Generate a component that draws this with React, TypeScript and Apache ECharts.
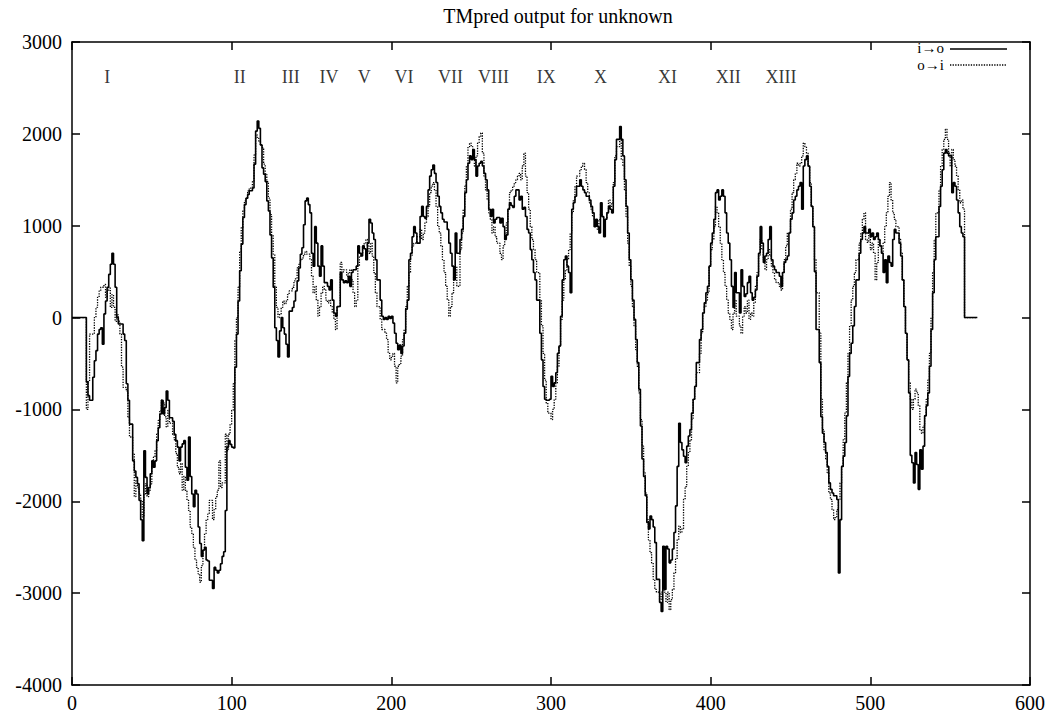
import { useEffect, useRef } from "react";
import * as echarts from "echarts";

// Residue at which each run of consecutive readings starts
const RUN_STARTS = [0, 8, 13, 38, 63, 88, 113, 138, 149, 168, 193, 218, 243, 268, 293, 299, 318, 343, 368, 393, 418, 443, 449, 468, 493, 518, 543, 559, 567];

// i→o score (solid line), one array per run
const IN_TO_OUT = [
  [0],
  [0, -700, -850, -900],
  [-650, -470, -360, -180, -130, -110, -290, 40, 180, 330, 470, 580, 700, 580, 330, 0, -70, -70, -70, -180, -250, -720, -900, -1160],
  [-1560, -1670, -1740, -1810, -1990, -2200, -2430, -1450, -1740, -1920, -1850, -1700, -1560, -1630, -1560, -1340, -1200, -1050, -900, -1050, -980, -800, -900, -1090],
  [-1130, -1270, -1340, -1410, -1560, -1410, -1375, -1340, -1630, -1770, -1300, -1730, -1920, -2060, -1880, -1920, -2280, -2460, -2600, -2530, -2500, -2640, -2650, -2860],
  [-2950, -2720, -2750, -2780, -2750, -2680, -2600, -2550, -2100, -1410, -1340, -1380, -1410, -1420, -540, -180, 180, 510, 800, 1090, 1230, 1300, 1340, 1380],
  [1410, 1670, 2030, 2140, 2060, 1880, 1630, 1560, 1480, 1270, 1160, 900, 650, 330, -110, -250, -430, -145, 0, -110, -180, -290, -430, 70],
  [110, 180, 290, 400, 540, 690, 760, 1010, 1270, 1300, 1230],
  [1140, 700, 560, 990, 810, 560, 450, 780, 560, 380, 380, 340, 300, 410, 190, 50, 15, 120],
  [490, 410, 380, 400, 380, 450, 340, 490, 520, 520, 560, 780, 700, 670, 780, 750, 630, 810, 1070, 1030, 920, 850, 630, 410],
  [190, 15, -20, 0, -20, 15, -10, 15, -60, -170, -280, -350, -300, -390, -310, -170, 90, 190, 630, 700, 880, 990, 920, 810],
  [1100, 1210, 1100, 1080, 1210, 1390, 1540, 1610, 1660, 1570, 1470, 1320, 1210, 1140, 1070, 1040, 1040, 960, 810, 700, 560, 410, 920, 700],
  [850, 960, 1100, 1360, 1500, 1680, 1760, 1720, 1830, 1720, 1540, 1650, 1680, 1700, 1650, 1570, 1500, 1390, 1180, 1100, 1180, 1030, 1070, 1090],
  [1030, 1080, 990, 850, 900, 1180, 1250, 1220, 1200, 1320, 1390, 1390, 1280, 1320, 1180, 1200, 1100, 960, 920, 740, 630, 490, 410, 190],
  [-170, -460, -750, -890, -900, -900],
  [-890, -640, -750, -710, -600, -390, -310, 15, 410, 630, 670, 560, 490, 270, 1180, 1250, 1320, 1430],
  [1500, 1430, 1390, 1360, 1320, 1320, 1280, 1210, 1140, 990, 1070, 990, 920, 1250, 1100, 880, 1070, 1140, 1210, 1180, 1140, 1430, 1720, 1940],
  [2080, 1940, 1760, 1500, 1210, 920, 630, 410, 190, -20, -240, -490, -780, -1180, -1540, -1730, -1940, -2230, -2300, -2160, -2200, -2280, -2450, -2850],
  [-3100, -3200, -2490, -2960, -2490, -2520, -2670, -2640, -2520, -2340, -2050, -1620, -1150, -1360, -1440, -1510, -1580, -1400, -1290, -1220, -1040, -890, -750, -490],
  [-240, -130, 50, 160, 270, 340, 560, 810, 920, 1070, 1360, 1390, 1280, 1320, 1390, 1320, 1140, 920, 810, 630, 340, 110, 490, 270],
  [50, 520, 340, 230, 260, 380, 450, 270, 190, 220, 300, 450, 700, 990, 810, 600, 670, 700, 850, 990, 630, 560, 520, 490],
  [450, 340, 490, 600, 630, 670],
  [920, 1070, 1140, 1280, 1320, 1390, 1430, 1470, 1180, 1650, 1720, 1760, 1650, 1430, 1210, 990, 500, -130],
  [-490, -1080, -1260, -1360, -1470, -1620, -1800, -1870, -1910, -1940, -1940, -1980, -2780, -2200, -1620, -1510, -1360, -1070, -640, -390, -280, -90, 120, 410],
  [700, 850, 920, 990, 920, 920, 960, 880, 920, 850, 880, 920, 850, 780, 700, 490, 630, 380, 670, 600, 560, 850, 960, 920],
  [810, 670, 410, 120, -170, -460, -820, -1500, -1580, -1800, -1470, -1600, -1870, -1440, -1650, -1400, -1070, -960, -820, -530, -130, 270, 630, 880],
  [1210, 1430, 1610, 1790, 1830, 1790, 1760, 1760, 1360, 1470, 1430, 1280, 1140, 990, 920, 880],
  [0],
  [0],
];

// o→i score (dotted line), same runs
const OUT_TO_IN = [
  [0],
  [0, -1000, -700, -180],
  [-180, 0, 110, 220, 290, 330, 330, 360, 220, 290, 330, 110, 250, 110, -40, 30, -40, -180, -540, -760, -760, -800, -1090, -1300],
  [-1480, -1950, -1770, -1850, -1920, -1990, -2170, -1920, -1810, -1950, -1880, -1810, -1630, -1520, -1450, -1270, -1120, -1010, -900, -930, -1080, -1190, -1010, -1150],
  [-1270, -1330, -1480, -1630, -1700, -1590, -1880, -1730, -1880, -1990, -2100, -2280, -2350, -2500, -2640, -2720, -2790, -2880, -2700, -2530, -2350, -2200, -2140, -1990],
  [-2200, -2090, -1950, -1880, -1560, -1850, -1800, -1800, -1270, -1450, -1270, -1160, -1010, -720, -250, 0, 330, 720, 980, 1160, 1270, 1300, 1380, 1410],
  [1480, 1770, 1990, 1950, 1920, 1880, 1850, 1670, 1560, 1480, 1300, 1120, 900, 690, 330, 110, 0, 40, 110, 180, 150, 180, 250, 290],
  [330, 400, 430, 540, 580, 620, 650, 690, 720, 690, 690],
  [630, 450, 270, 340, 190, 15, 120, 270, 340, 300, 190, 160, 190, 120, 50, -20, -130, 120],
  [600, 490, 520, 520, 450, 490, 520, 410, 270, 120, 190, 560, 670, 700, 780, 810, 850, 780, 700, 810, 670, 490, 270, 120],
  [-20, -130, -130, -170, -240, -390, -460, -420, -390, -530, -710, -530, -500, -420, -240, -130, 120, 340, 490, 670, 780, 810, 810, 880],
  [960, 850, 920, 1030, 1100, 1210, 1360, 1430, 1470, 1390, 1210, 990, 920, 780, 630, 490, 340, 190, 15, 120, 270, 450, 560, 340],
  [740, 920, 1180, 1430, 1650, 1860, 1900, 1860, 1760, 1650, 1760, 1900, 1970, 2010, 1790, 1540, 1390, 1280, 1140, 1070, 920, 990, 880, 810],
  [700, 630, 780, 920, 1030, 1180, 1360, 1390, 1430, 1470, 1500, 1540, 1570, 1500, 1650, 1790, 1540, 1360, 1180, 990, 850, 740, 630, 490],
  [190, -90, -390, -680, -930, -1040],
  [-1040, -1110, -1000, -890, -710, -530, -310, -20, 190, 410, 520, 630, 740, 920, 1140, 1280, 1430, 1540],
  [1610, 1650, 1680, 1610, 1470, 1360, 1250, 1180, 1100, 1070, 1030, 960, 1070, 1140, 1100, 990, 1070, 1140, 1280, 1210, 1250, 1470, 1760, 1860],
  [1940, 1720, 1650, 1390, 1100, 810, 560, 340, 120, -90, -350, -530, -820, -1110, -1400, -1690, -1910, -2200, -2420, -2560, -2670, -2850, -2960, -2990],
  [-3070, -2990, -2920, -2990, -3100, -2990, -3180, -3070, -2960, -2780, -2630, -2420, -2270, -2340, -2300, -1980, -1840, -1620, -1470, -1330, -1110, -890, -750, -600],
  [-390, -170, 50, 120, 190, 270, 560, 740, 850, 990, 1210, 1140, 990, 810, 630, 490, 340, 190, 50, -20, -130, 50, 190, 15],
  [-90, -170, 15, 120, 50, 190, -20, 50, 15, 160, 340, 490, 670, 850, 740, 630, 520, 630, 740, 670, 560, 490, 410, 380],
  [340, 300, 490, 630, 780, 920],
  [920, 1180, 1360, 1500, 1570, 1680, 1650, 1680, 1760, 1900, 1860, 1790, 1650, 1470, 1210, 990, 630, 270],
  [-170, -890, -1220, -1440, -1540, -1690, -1910, -1980, -2090, -2200, -2170, -2090, -1980, -1800, -1620, -1330, -1040, -710, -390, -90, 190, 340, 490, 630],
  [810, 920, 1070, 1140, 850, 820, 960, 740, 810, 700, 410, 600, 850, 780, 700, 810, 990, 1140, 1320, 1470, 1280, 1140, 1070, 990],
  [850, 700, 410, 120, -170, -460, -710, -890, -1000, -890, -780, -820, -960, -1220, -1260, -1180, -1070, -890, -680, -390, 0, 490, 850, 1140],
  [1390, 1650, 1830, 1940, 2050, 1940, 1790, 1650, 1830, 1720, 1650, 1540, 1390, 1250, 1280, 1180],
  [0],
  [0],
];

// Helix labels and the residues they sit over
const HELIX_LABELS = ["I", "II", "III", "IV", "V", "VI", "VII", "VIII", "IX", "X", "XI", "XII", "XIII"];
const HELIX_POS = [22, 105, 137, 161, 183, 208, 237, 264, 297, 331, 373, 411, 444];
const HELIX_LABEL_Y = 2620;

const X_MIN = 0;
const X_MAX = 600;
const X_STEP = 100;
const Y_MIN = -4000;
const Y_MAX = 3000;
const Y_STEP = 1000;

const SERIF = "'Liberation Serif', 'DejaVu Serif', serif";

function toPoints(runs: number[][]): number[][] {
  const pts: number[][] = [];
  runs.forEach((vals, i) => {
    vals.forEach((v, j) => pts.push([RUN_STARTS[i] + j, v]));
  });
  return pts;
}

export default function App() {
  const ref = useRef<HTMLDivElement>(null);

  useEffect(() => {
    if (!ref.current) return;
    const chart = echarts.init(ref.current, undefined, { renderer: "svg" });

    const axisLine = { show: true, onZero: false, lineStyle: { color: "#000", width: 1.5 } };
    const axisTick = { show: true, inside: true, length: 8, lineStyle: { color: "#000", width: 1.5 } };
    const label = { color: "#000", fontFamily: SERIF, fontSize: 20, formatter: (v: number) => String(v) };

    chart.setOption({
      animation: false,
      backgroundColor: "#fff",
      title: {
        text: "TMpred output for unknown",
        left: 553,
        top: 1,
        textAlign: "center",
        textStyle: { color: "#000", fontFamily: SERIF, fontSize: 20, fontWeight: "normal" },
      },
      grid: { left: 72, right: 15, top: 42, bottom: 32, containLabel: false },
      xAxis: [
        {
          type: "value", min: X_MIN, max: X_MAX, interval: X_STEP, position: "bottom",
          axisLine, axisTick, splitLine: { show: false },
          axisLabel: { ...label, margin: 8 },
        },
        {
          type: "value", min: X_MIN, max: X_MAX, interval: X_STEP, position: "top",
          axisLine, axisTick, splitLine: { show: false }, axisLabel: { show: false },
        },
      ],
      yAxis: [
        {
          type: "value", min: Y_MIN, max: Y_MAX, interval: Y_STEP, position: "left",
          axisLine, axisTick, splitLine: { show: false },
          axisLabel: { ...label, margin: 10 },
        },
        {
          type: "value", min: Y_MIN, max: Y_MAX, interval: Y_STEP, position: "right",
          axisLine, axisTick, splitLine: { show: false }, axisLabel: { show: false },
        },
      ],
      series: [
        {
          name: "o→i",
          type: "line",
          step: "end",
          showSymbol: false,
          symbol: "none",
          data: toPoints(OUT_TO_IN),
          lineStyle: { color: "#000", width: 1.3, type: "dotted" },
          z: 2,
        },
        {
          name: "i→o",
          type: "line",
          step: "end",
          showSymbol: false,
          symbol: "none",
          data: toPoints(IN_TO_OUT),
          lineStyle: { color: "#000", width: 1.6, type: "solid" },
          z: 3,
        },
        {
          name: "helices",
          type: "scatter",
          symbolSize: 0.1,
          itemStyle: { color: "rgba(0,0,0,0)" },
          silent: true,
          data: HELIX_POS.map((x, i) => ({ name: HELIX_LABELS[i], value: [x, HELIX_LABEL_Y] })),
          label: {
            show: true,
            position: "inside",
            formatter: "{b}",
            color: "#000",
            fontFamily: SERIF,
            fontSize: 18,
          },
          z: 4,
        },
      ],
      graphic: [
        {
          type: "text",
          style: { text: "i→o", x: 944, y: 48, align: "right", verticalAlign: "middle", fill: "#000", font: `15px ${SERIF}` },
        },
        {
          type: "line",
          shape: { x1: 950, y1: 49, x2: 1007, y2: 49 },
          style: { stroke: "#000", lineWidth: 1.6 },
        },
        {
          type: "text",
          style: { text: "o→i", x: 944, y: 65, align: "right", verticalAlign: "middle", fill: "#000", font: `15px ${SERIF}` },
        },
        {
          type: "line",
          shape: { x1: 950, y1: 65, x2: 1007, y2: 65 },
          style: { stroke: "#000", lineWidth: 1.3, lineDash: [1.3, 1.3] },
        },
      ],
    });

    return () => chart.dispose();
  }, []);

  return (
    <div
      ref={ref}
      style={{ position: "fixed", left: 0, top: 0, width: 1048, height: 717, background: "#fff" }}
    />
  );
}
